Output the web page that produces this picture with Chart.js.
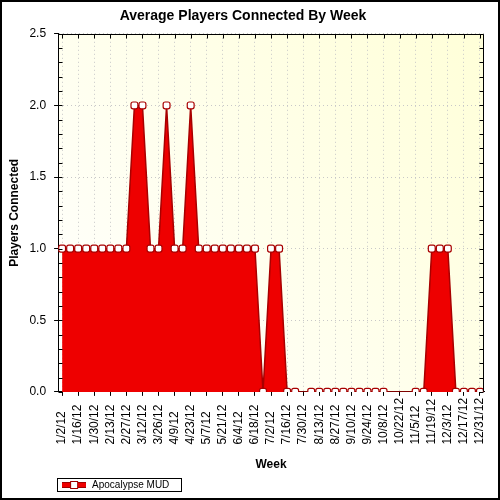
<!DOCTYPE html>
<html>
<head>
<meta charset="utf-8">
<script src="https://cdn.jsdelivr.net/npm/chart.js"></script>
<style>
  html, body { margin: 0; padding: 0; background: #fff; }
  #wrap { width: 500px; height: 500px; }
</style>
</head>
<body>
<div id="wrap"><canvas id="chart" width="500" height="500"></canvas></div>
<script>
// weekly buckets, Monday of each week in 2012
const weekLabels = [
  '1/2/12', '1/9/12', '1/16/12', '1/23/12', '1/30/12',
  '2/6/12', '2/13/12', '2/20/12', '2/27/12',
  '3/5/12', '3/12/12', '3/19/12', '3/26/12',
  '4/2/12', '4/9/12', '4/16/12', '4/23/12', '4/30/12',
  '5/7/12', '5/14/12', '5/21/12', '5/28/12',
  '6/4/12', '6/11/12', '6/18/12', '6/25/12',
  '7/2/12', '7/9/12', '7/16/12', '7/23/12', '7/30/12',
  '8/6/12', '8/13/12', '8/20/12', '8/27/12',
  '9/3/12', '9/10/12', '9/17/12', '9/24/12',
  '10/1/12', '10/8/12', '10/15/12', '10/22/12', '10/29/12',
  '11/5/12', '11/12/12', '11/19/12', '11/26/12',
  '12/3/12', '12/10/12', '12/17/12', '12/24/12', '12/31/12'
];

// null = no sample that week
const playerValues = [
  1, 1, 1, 1, 1, 1, 1, 1, 1,
  2, 2, 1, 1, 2, 1, 1, 2,
  1, 1, 1, 1, 1, 1, 1, 1,
  0, 1, 1, 0, 0, null,
  0, 0, 0, 0, 0, 0, 0, 0, 0, 0,
  null, null, null,
  0, 0, 1, 1, 1, 0, 0, 0, 0
];

const yMin = 0;
const yMax = 2.5;

Chart.defaults.font.family = '"Liberation Sans", Arial, sans-serif';
Chart.defaults.color = '#000';

// legend swatch: thick red line with a hollow marker
const legendSymbol = document.createElement('canvas');
legendSymbol.width = 24;
legendSymbol.height = 8;
const sg = legendSymbol.getContext('2d');
sg.fillStyle = '#ee0000';
sg.fillRect(0, 1, 24, 6);
sg.fillStyle = '#a00000';
sg.fillRect(0, 1, 24, 1);
sg.fillRect(0, 6, 24, 1);
sg.fillStyle = '#ffffff';
sg.fillRect(8.5, 0.5, 7, 7);
sg.strokeStyle = '#a00000';
sg.lineWidth = 1;
sg.strokeRect(8.5, 0.5, 7, 7);

const isMajor = v => Math.abs(v * 2 - Math.round(v * 2)) < 1e-6;

const chartDecor = {
  id: 'chartDecor',
  beforeDraw(chart) {
    const {ctx, chartArea: a, width, height} = chart;
    ctx.save();
    ctx.fillStyle = '#ffffff';
    ctx.fillRect(0, 0, width, height);
    const grad = ctx.createLinearGradient(a.left, a.bottom, a.right, a.top);
    grad.addColorStop(0, '#ffffff');
    grad.addColorStop(1, '#ffffd8');
    ctx.fillStyle = grad;
    ctx.fillRect(a.left, a.top, a.right - a.left, a.bottom - a.top);
    ctx.restore();
  },
  afterDraw(chart) {
    const {ctx, chartArea: a, width, height} = chart;
    const xs = chart.scales.x;
    const ys = chart.scales.y;
    ctx.save();

    // week labels, rotated, start-aligned at the bottom like the original
    ctx.font = '12px "Liberation Sans", Arial, sans-serif';
    ctx.fillStyle = '#000';
    ctx.textAlign = 'left';
    ctx.textBaseline = 'middle';
    let longest = 0;
    xs.ticks.forEach(t => {
      longest = Math.max(longest, ctx.measureText(weekLabels[t.value]).width);
    });
    const base = a.bottom + 6 + longest;
    xs.ticks.forEach((t, i) => {
      ctx.save();
      ctx.translate(xs.getPixelForTick(i), base);
      ctx.rotate(-Math.PI / 2);
      ctx.fillText(weekLabels[t.value], 0, 0);
      ctx.restore();
    });

    // top and right side of the plot frame
    ctx.strokeStyle = '#000';
    ctx.lineWidth = 1;
    const L = Math.round(a.left) + 0.5, R = Math.round(a.right) - 0.5;
    const T = Math.round(a.top) + 0.5, B = Math.round(a.bottom) - 0.5;
    ctx.beginPath();
    ctx.moveTo(L, T); ctx.lineTo(R, T); ctx.lineTo(R, B);
    // inner ticks
    xs.ticks.forEach((t, i) => {
      const px = Math.round(xs.getPixelForTick(i)) + 0.5;
      ctx.moveTo(px, T); ctx.lineTo(px, T + 4);
    });
    ys.ticks.forEach((t, i) => {
      const py = Math.round(ys.getPixelForTick(i)) + 0.5;
      ctx.moveTo(L, py); ctx.lineTo(L + 4, py);
      ctx.moveTo(R, py); ctx.lineTo(R - 4, py);
    });
    ctx.stroke();

    // box round the legend
    const hb = chart.legend.legendHitBoxes[0];
    if (hb) {
      ctx.strokeRect(Math.round(hb.left) - 3.5, Math.round(hb.top) - 1.5, Math.round(hb.width) + 16, Math.round(hb.height) + 3);
    }

    // outer border
    ctx.lineWidth = 2;
    ctx.strokeRect(1, 1, width - 2, height - 2);
    ctx.restore();
  }
};

new Chart(document.getElementById('chart'), {
  type: 'line',
  data: {
    datasets: [{
      label: 'Apocalypse MUD',
      data: playerValues.map((v, i) => ({x: i, y: v})),
      fill: 'origin',
      backgroundColor: '#ee0000',
      borderColor: '#a80000',
      borderWidth: 1.5,
      tension: 0,
      spanGaps: true,
      pointStyle: 'rectRounded',
      pointRadius: 4,
      pointBackgroundColor: '#ffffff',
      pointBorderColor: '#a80000',
      pointBorderWidth: 1.2
    }]
  },
  options: {
    responsive: false,
    animation: false,
    events: [],
    layout: { padding: { left: 2, right: 16, top: 2, bottom: 0 } },
    plugins: {
      title: {
        display: true,
        text: 'Average Players Connected By Week',
        font: { size: 14, weight: 'bold' },
        color: '#000',
        padding: { top: 6, bottom: 9 }
      },
      legend: {
        position: 'bottom',
        align: 'start',
        fullSize: false,
        labels: {
          usePointStyle: true,
          pointStyle: legendSymbol,
          pointStyleWidth: 26,
          boxHeight: 8,
          padding: 3,
          font: { size: 10 },
          color: '#000'
        }
      },
      tooltip: { enabled: false }
    },
    scales: {
      x: {
        type: 'linear',
        min: -0.5,
        max: weekLabels.length - 0.5,
        ticks: {
          stepSize: 2,
          autoSkip: false,
          maxTicksLimit: 100,
          includeBounds: false,
          minRotation: 90,
          maxRotation: 90,
          padding: 2,
          font: { size: 12 },
          color: 'rgba(0,0,0,0)',
          callback: v => weekLabels[v]
        },
        grid: {
          color: '#c8c8c8',
          tickColor: '#000',
          tickLength: 4
        },
        border: { color: '#000', width: 1, dash: [1, 3] },
        title: {
          display: true,
          text: 'Week',
          font: { size: 12, weight: 'bold' },
          color: '#000',
          padding: { top: 11, bottom: 5 }
        }
      },
      y: {
        min: yMin,
        max: yMax,
        ticks: {
          stepSize: 0.1,
          autoSkip: false,
          padding: 8,
          font: { size: 12 },
          color: '#000',
          callback: v => (isMajor(v) ? v.toFixed(1) : '')
        },
        grid: {
          color: c => (isMajor(c.tick.value) ? '#c8c8c8' : 'rgba(0,0,0,0)'),
          tickColor: c => (isMajor(c.tick.value) ? '#000' : 'rgba(0,0,0,0)'),
          tickLength: 4
        },
        border: { color: '#000', width: 1, dash: [1, 3] },
        title: {
          display: true,
          text: 'Players Connected',
          font: { size: 12, weight: 'bold' },
          color: '#000',
          padding: { top: 5, bottom: 0 }
        }
      }
    }
  },
  plugins: [chartDecor]
});
</script>
</body>
</html>
